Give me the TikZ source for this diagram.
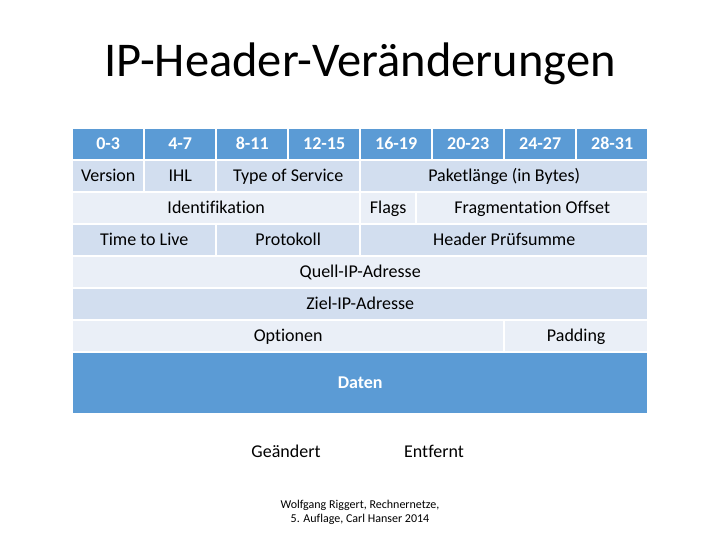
\documentclass[tikz,border=0pt]{standalone}
\usepackage{fontspec}
\setmainfont[Ligatures={NoCommon}]{Carlito}
\definecolor{hdr}{HTML}{5B9BD5}
\definecolor{rowD}{HTML}{D2DEEF}
\definecolor{rowL}{HTML}{EAEFF7}
\begin{document}
\begin{tikzpicture}[x=1pt,y=-1pt,
  cellbase/.style={draw=none,inner sep=0pt,anchor=north west,text height=13pt,text depth=2pt,font=\fontsize{18}{20}\selectfont,text=black},
  hd/.style={cellbase,fill=hdr,text=white,font=\fontsize{18}{20}\selectfont\bfseries},
  dk/.style={cellbase,fill=rowD},
  lt/.style={cellbase,fill=rowL},
  data/.style={cellbase,fill=hdr,text=white,font=\fontsize{18}{20}\selectfont\bfseries},
  plain/.style={inner sep=0pt,text height=13pt,text depth=2pt,font=\fontsize{18}{20}\selectfont,text=black}]
\useasboundingbox (0,0) rectangle (720,540);
% cell macro: #1 style, #2 name, #3 x0, #4 x1, #5 y0, #6 y1, #7 text
\newcommand{\mycell}[7]{%
  \pgfmathsetmacro{\cw}{#4-#3-2}\pgfmathsetmacro{\ch}{#6-#5-2}%
  \node[#1,minimum width=\cw pt,minimum height=\ch pt] (#2) at (#3+1,#5+1) {#7};}
\node[font=\fontsize{48.5}{52}\selectfont,text=black,anchor=base] (title) at (360,77) {IP-Header-Veränderungen};
% header row
\mycell{hd}{h0}{72}{144}{128}{160}{0-3}
\mycell{hd}{h1}{144}{216}{128}{160}{4-7}
\mycell{hd}{h2}{216}{288}{128}{160}{8-11}
\mycell{hd}{h3}{288}{360}{128}{160}{12-15}
\mycell{hd}{h4}{360}{432}{128}{160}{16-19}
\mycell{hd}{h5}{432}{504}{128}{160}{20-23}
\mycell{hd}{h6}{504}{576}{128}{160}{24-27}
\mycell{hd}{h7}{576}{648}{128}{160}{28-31}
% row 1
\mycell{dk}{ver}{72}{144}{160}{192}{Version}
\mycell{dk}{ihl}{144}{216}{160}{192}{IHL}
\mycell{dk}{tos}{216}{360}{160}{192}{Type of Service}
\mycell{dk}{len}{360}{648}{160}{192}{Paketlänge (in Bytes)}
% row 2
\mycell{lt}{ident}{72}{360}{192}{224}{Identifikation}
\mycell{lt}{flags}{360}{416}{192}{224}{Flags}
\mycell{lt}{frag}{416}{648}{192}{224}{Fragmentation Offset}
% row 3
\mycell{dk}{ttl}{72}{216}{224}{256}{Time to Live}
\mycell{dk}{prot}{216}{360}{224}{256}{Protokoll}
\mycell{dk}{chk}{360}{648}{224}{256}{Header Prüfsumme}
% rows 4-6
\mycell{lt}{src}{72}{648}{256}{288}{Quell-IP-Adresse}
\mycell{dk}{dst}{72}{648}{288}{320}{Ziel-IP-Adresse}
\mycell{lt}{opt}{72}{504}{320}{352}{Optionen}
\mycell{lt}{pad}{504}{648}{320}{352}{Padding}
\mycell{data}{daten}{72}{648}{352}{414}{Daten}
% legend
\node[plain] (geaendert) at (286,452) {Geändert};
\node[plain] (entfernt) at (434,452) {Entfernt};
\node[inner sep=0pt,align=center,font=\fontsize{12}{14}\selectfont,text=black] (quelle) at (360,512) {Wolfgang Riggert, Rechnernetze,\\5. Auflage, Carl Hanser 2014};
\end{tikzpicture}
\end{document}
